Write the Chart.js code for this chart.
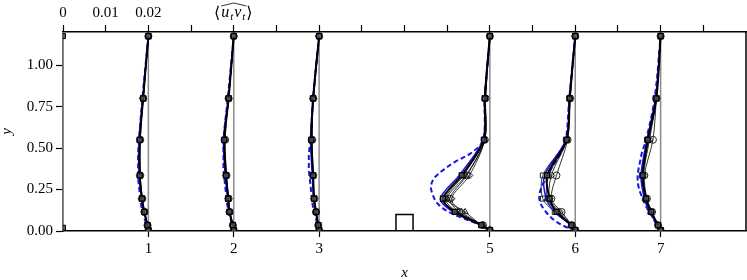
<!DOCTYPE html>
<html>
<head>
<meta charset="utf-8">
<script src="https://cdn.jsdelivr.net/npm/chart.js@4.4.1/dist/chart.umd.min.js"></script>
<style>
  html, body { margin: 0; padding: 0; background: #fff; }
  #wrap { width: 747px; height: 280px; }
</style>
</head>
<body>
<div id="wrap"><canvas id="c" width="747" height="280"></canvas></div>
<script>
// profiles of <u_t v_t> at the measuring stations, drawn as offsets from the station line
// (1 unit of x = 0.02 of <u_t v_t>, see top axis)

var stations = [1, 2, 3, 5, 6, 7];
var guideStations = [0, 1, 2, 3, 5, 6, 7];
var probeY = [0.005, 0.035, 0.115, 0.195, 0.335, 0.55, 0.8, 1.175];
var refY = [0, 0.04, 0.08, 0.12, 0.17, 0.22, 0.27, 0.32, 0.37, 0.42, 0.47, 0.55, 0.8, 1.175];

var refDashed = [
  [0, -0.02, -0.05, -0.07, -0.09, -0.10, -0.11, -0.12, -0.12, -0.12, -0.12, -0.11, -0.07, 0],
  [0, -0.02, -0.04, -0.06, -0.08, -0.09, -0.10, -0.11, -0.12, -0.12, -0.12, -0.12, -0.07, 0],
  [0, -0.02, -0.04, -0.06, -0.08, -0.09, -0.10, -0.11, -0.12, -0.12, -0.12, -0.10, -0.07, 0],
  [0, -0.13, -0.33, -0.50, -0.62, -0.67, -0.69, -0.65, -0.54, -0.40, -0.22, -0.08, -0.06, 0],
  [0, -0.17, -0.28, -0.35, -0.41, -0.42, -0.39, -0.34, -0.29, -0.23, -0.17, -0.11, -0.07, 0],
  [0, -0.05, -0.09, -0.14, -0.19, -0.23, -0.26, -0.27, -0.26, -0.24, -0.22, -0.17, -0.07, 0]
];
var blueSolid = [
  [0, -0.015, -0.05, -0.08, -0.11, -0.11, -0.065, 0],
  [0, -0.015, -0.05, -0.07, -0.10, -0.12, -0.065, 0],
  [0, -0.015, -0.04, -0.065, -0.08, -0.10, -0.07, 0],
  [0, -0.11, -0.43, -0.58, -0.36, -0.08, -0.06, 0],
  [0, -0.05, -0.24, -0.34, -0.36, -0.11, -0.07, 0],
  [0, -0.035, -0.13, -0.19, -0.23, -0.16, -0.06, 0]
];
var thickSquares = [
  [0, -0.01, -0.047, -0.075, -0.10, -0.10, -0.062, 0],
  [0, -0.01, -0.05, -0.065, -0.09, -0.11, -0.06, 0],
  [0, -0.01, -0.035, -0.06, -0.07, -0.09, -0.07, 0],
  [0, -0.10, -0.41, -0.55, -0.33, -0.07, -0.06, 0],
  [0, -0.045, -0.22, -0.30, -0.33, -0.10, -0.065, 0],
  [0, -0.03, -0.11, -0.17, -0.21, -0.15, -0.05, 0]
];
var thinSquares = [
  [0, -0.01, -0.05, -0.08, -0.10, -0.105, -0.06, 0],
  [0, -0.01, -0.05, -0.07, -0.095, -0.115, -0.06, 0],
  [0, -0.01, -0.04, -0.06, -0.075, -0.095, -0.07, 0],
  [0, -0.09, -0.38, -0.52, -0.31, -0.07, -0.06, 0],
  [0, -0.05, -0.24, -0.38, -0.38, -0.11, -0.07, 0],
  [0, -0.03, -0.11, -0.18, -0.22, -0.16, -0.06, 0]
];
var thinCircles = [
  [0, -0.01, -0.045, -0.07, -0.095, -0.095, -0.06, 0],
  [0, -0.01, -0.05, -0.06, -0.085, -0.10, -0.06, 0],
  [0, -0.01, -0.035, -0.055, -0.07, -0.08, -0.07, 0],
  [0, -0.08, -0.36, -0.47, -0.27, -0.06, -0.05, 0],
  [0, -0.04, -0.16, -0.28, -0.22, -0.09, -0.06, 0],
  [0, -0.03, -0.10, -0.16, -0.19, -0.09, -0.05, 0]
];
var thinDiamonds = [
  [0, -0.01, -0.05, -0.08, -0.10, -0.10, -0.065, 0],
  [0, -0.01, -0.05, -0.065, -0.09, -0.11, -0.06, 0],
  [0, -0.01, -0.04, -0.06, -0.075, -0.09, -0.065, 0],
  [0, -0.09, -0.33, -0.45, -0.24, -0.06, -0.05, 0],
  [0, -0.04, -0.18, -0.30, -0.28, -0.10, -0.06, 0],
  [0, -0.03, -0.11, -0.17, -0.20, -0.13, -0.05, 0]
];
var thinTriangles = [
  [0, -0.01, -0.045, -0.075, -0.10, -0.10, -0.06, 0],
  [0, -0.01, -0.045, -0.06, -0.09, -0.11, -0.06, 0],
  [0, -0.01, -0.035, -0.06, -0.07, -0.09, -0.07, 0],
  [0, -0.10, -0.29, -0.50, -0.28, -0.06, -0.06, 0],
  [0, -0.05, -0.20, -0.33, -0.31, -0.10, -0.065, 0],
  [0, -0.03, -0.12, -0.18, -0.21, -0.14, -0.05, 0]
];

// markers of the wall station x = 0 (only ends visible)
var wallY = [0.02, 1.175];

// obstacle outline
var blockX = [3.9, 3.9, 4.1, 4.1];
var blockY = [0, 0.1, 0.1, 0];

var xTicks = [1, 2, 3, 5, 6, 7];
var yTicks = [0, 0.25, 0.5, 0.75, 1.0];
var topTicks = [0, 0.5, 1, 1.5, 2, 2.5, 3, 3.5, 4, 4.5, 5, 5.5, 6, 6.5, 7, 7.5];
var topTickLabels = { 0: '0', 0.5: '0.01', 1: '0.02' };

var SERIF = '"Liberation Serif", "DejaVu Serif", serif';
var BLUE = '#1414e6';

function profilePoints(station, ys, offs) {
  return ys.map(function (y, i) { return { x: station + offs[i], y: y }; });
}

function thinLine(points, style) {
  return {
    data: points,
    borderColor: '#000', borderWidth: 0.8, pointStyle: style, pointRadius: 3.5,
    pointBackgroundColor: 'rgba(255,255,255,0)', pointBorderColor: '#222', pointBorderWidth: 1,
    tension: 0.3, showLine: true, clip: 0, order: 4
  };
}

var datasets = [];
stations.forEach(function (s, k) {
  datasets.push({
    data: profilePoints(s, refY, refDashed[k]),
    borderColor: BLUE, borderWidth: 2, borderDash: [5, 3],
    pointRadius: 0, tension: 0.35, showLine: true, clip: 0, order: 6
  });
  datasets.push(thinLine(profilePoints(s, probeY, thinSquares[k]), 'rect'));
  datasets.push(thinLine(profilePoints(s, probeY, thinCircles[k]), 'circle'));
  datasets.push(thinLine(profilePoints(s, probeY, thinDiamonds[k]), 'rectRot'));
  datasets.push(thinLine(profilePoints(s, probeY, thinTriangles[k]), 'triangle'));
  datasets.push({
    data: profilePoints(s, probeY, blueSolid[k]),
    borderColor: BLUE, borderWidth: 1.5, pointRadius: 0,
    tension: 0.3, showLine: true, clip: 0, order: 3
  });
  datasets.push({
    data: profilePoints(s, probeY, thickSquares[k]),
    borderColor: '#000', borderWidth: 2, pointStyle: 'rect', pointRadius: 3.5,
    pointBackgroundColor: 'rgba(90,90,90,0.75)', pointBorderColor: '#000', pointBorderWidth: 1.2,
    tension: 0.3, showLine: true, clip: 0, order: 2
  });
});

datasets.push({
  data: wallY.map(function (y) { return { x: 0, y: y }; }),
  showLine: false, pointStyle: 'rect', pointRadius: 3.5,
  pointBackgroundColor: 'rgba(60,60,120,0.8)', pointBorderColor: '#000', pointBorderWidth: 1,
  clip: 0, order: 1
});

datasets.push({
  data: blockX.map(function (x, i) { return { x: x, y: blockY[i] }; }),
  showLine: true, borderColor: '#000', borderWidth: 1.5, pointRadius: 0,
  tension: 0, clip: 0, order: 1
});

// gray station lines + right spine
var stationLines = {
  id: 'stationLines',
  beforeDatasetsDraw: function (chart) {
    var ctx = chart.ctx;
    var xs = chart.scales.x, ys = chart.scales.y;
    var a = chart.chartArea;
    ctx.save();
    ctx.strokeStyle = '#000';
    ctx.lineWidth = 1.5;
    ctx.beginPath();
    ctx.moveTo(a.right, a.top);
    ctx.lineTo(a.right, a.bottom);
    ctx.stroke();
    ctx.strokeStyle = '#8a8a8a';
    ctx.lineWidth = 1.5;
    guideStations.forEach(function (s) {
      var px = xs.getPixelForValue(s);
      ctx.beginPath();
      ctx.moveTo(px, ys.getPixelForValue(0));
      ctx.lineTo(px, ys.getPixelForValue(1.2));
      ctx.stroke();
    });
    ctx.restore();
  }
};

// quantity label on the top axis, <u_t v_t> with wide hat
var topQuantityLabel = {
  id: 'topQuantityLabel',
  afterDraw: function (chart) {
    var ctx = chart.ctx;
    var cx = chart.scales.xTop.getPixelForValue(2);
    var base = 17;
    ctx.save();
    ctx.fillStyle = '#000';
    ctx.textBaseline = 'alphabetic';
    ctx.textAlign = 'left';
    var parts = [
      { t: '\u27E8', f: '16px "DejaVu Serif", serif', dy: 1 },
      { t: 'u', f: 'italic 16px ' + SERIF, dy: 0 },
      { t: 't', f: 'italic 11px ' + SERIF, dy: 3 },
      { t: 'v', f: 'italic 16px ' + SERIF, dy: 0 },
      { t: 't', f: 'italic 11px ' + SERIF, dy: 3 },
      { t: '\u27E9', f: '16px "DejaVu Serif", serif', dy: 1 }
    ];
    var total = 0;
    parts.forEach(function (p) { ctx.font = p.f; p.w = ctx.measureText(p.t).width + 1; total += p.w; });
    var x = cx - total / 2;
    var hatStart = 0, hatEnd = 0;
    parts.forEach(function (p, i) {
      ctx.font = p.f;
      if (i === 1) hatStart = x;
      ctx.fillText(p.t, x, base + p.dy);
      x += p.w;
      if (i === 4) hatEnd = x;
    });
    ctx.strokeStyle = '#000';
    ctx.lineWidth = 0.8;
    ctx.beginPath();
    ctx.moveTo(hatStart, base - 11);
    ctx.lineTo((hatStart + hatEnd) / 2, base - 14);
    ctx.lineTo(hatEnd, base - 11);
    ctx.stroke();
    ctx.restore();
  }
};

new Chart(document.getElementById('c').getContext('2d'), {
  type: 'scatter',
  data: { datasets: datasets },
  options: {
    responsive: false,
    animation: false,
    events: [],
    layout: { autoPadding: false, padding: { left: 0, right: 1, top: 0, bottom: 0 } },
    plugins: { legend: { display: false }, tooltip: { enabled: false } },
    scales: {
      x: {
        type: 'linear', position: 'bottom', min: 0, max: 8,
        afterBuildTicks: function (scale) { scale.ticks = xTicks.map(function (v) { return { value: v }; }); },
        afterFit: function (scale) { scale.height = 49; },
        grid: { drawOnChartArea: false, tickLength: 6, tickColor: '#000', tickWidth: 1.2 },
        border: { color: '#000', width: 1.5 },
        ticks: { color: '#000', padding: 3, font: { family: SERIF, size: 15 }, autoSkip: false, maxRotation: 0 },
        title: { display: true, text: 'x', color: '#000', font: { family: SERIF, size: 15, style: 'italic', lineHeight: 1 }, padding: { top: 0, bottom: -1 } }
      },
      xTop: {
        type: 'linear', position: 'top', min: 0, max: 8,
        afterBuildTicks: function (scale) { scale.ticks = topTicks.map(function (v) { return { value: v }; }); },
        afterFit: function (scale) { scale.height = 32; },
        grid: { drawOnChartArea: false, tickLength: 7, tickColor: '#000', tickWidth: 1.2 },
        border: { color: '#000', width: 1.5 },
        ticks: {
          color: '#000', padding: 3, font: { family: SERIF, size: 15 }, autoSkip: false, maxRotation: 0,
          callback: function (v) { return topTickLabels[v] !== undefined ? topTickLabels[v] : ''; }
        }
      },
      y: {
        type: 'linear', min: 0, max: 1.2,
        afterBuildTicks: function (scale) { scale.ticks = yTicks.map(function (v) { return { value: v }; }); },
        afterFit: function (scale) { scale.width = 63; },
        grid: { drawOnChartArea: false, tickLength: 7, tickColor: '#000', tickWidth: 1.2 },
        border: { color: '#000', width: 1.5 },
        ticks: {
          color: '#000', padding: 3, font: { family: SERIF, size: 15 },
          callback: function (v) { return v.toFixed(2); }
        },
        title: { display: true, text: 'y', color: '#000', font: { family: SERIF, size: 15, style: 'italic', lineHeight: 1 }, padding: { top: 0, bottom: 0 } }
      }
    }
  },
  plugins: [stationLines, topQuantityLabel]
});
</script>
</body>
</html>
